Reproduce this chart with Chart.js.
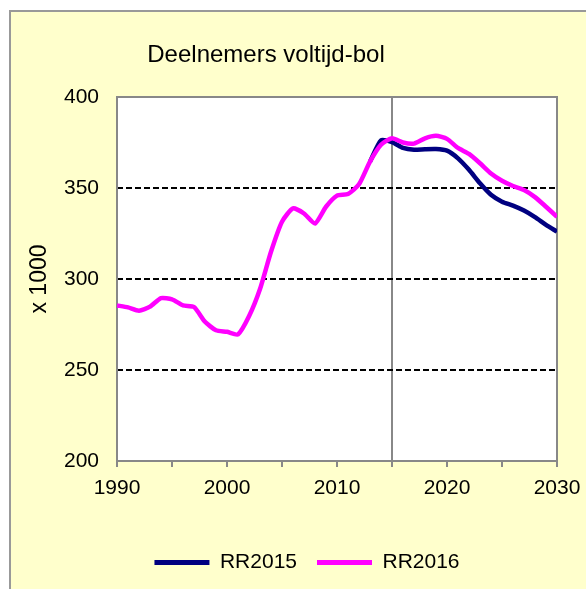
<!DOCTYPE html>
<html lang="nl">
<head>
  <meta charset="UTF-8">
  <title>Deelnemers voltijd-bol</title>
  <script src="https://cdn.jsdelivr.net/npm/chart.js"></script>
  <style>
    body { margin: 0; background: #ffffff; overflow: hidden; width: 586px; height: 589px; }
    #box {
      position: absolute; left: 9px; top: 10px;
      width: 575px; height: 577px;
      background: #ffffcc;
      border-left: 2px solid #999999;
      border-top: 2px solid #999999;
    }
  </style>
  <script>
    const years = [1990, 1991, 1992, 1993, 1994, 1995, 1996, 1997, 1998, 1999,
      2000, 2001, 2002, 2003, 2004, 2005, 2006, 2007, 2008, 2009,
      2010, 2011, 2012, 2013, 2014, 2015, 2016, 2017, 2018, 2019,
      2020, 2021, 2022, 2023, 2024, 2025, 2026, 2027, 2028, 2029, 2030];

    // RR2015 valt tot 2013 samen met RR2016
    const rr2015 = [null, null, null, null, null, null, null, null, null, null,
      null, null, null, null, null, null, null, null, null, null,
      null, null, null, 364.5, 376.2, 375.2, 372, 371, 371.3, 371.4,
      370.5, 366.3, 360, 352.6, 346.3, 342.5, 340.3, 337.6, 334, 329.8, 326];

    const rr2016 = [285.5, 284.4, 282.6, 284.8, 289.5, 288.8, 285.5, 284.6, 276.5, 271.8,
      271, 269.6, 279.5, 294.5, 315, 331.5, 338.8, 336, 330.5, 339.7,
      345.8, 346.7, 352, 364.5, 373.8, 377.3, 375, 374.4, 377.3, 378.7,
      377, 372, 368.7, 363.6, 358, 354, 351.1, 348.9, 345, 339.7, 334.2];

    const seriesNames = ['RR2015', 'RR2016'];
    const yTicks = [200, 250, 300, 350, 400];
    const chartTitle = 'Deelnemers voltijd-bol';
    const yTitle = 'x 1000';

    const FONT = "'Liberation Sans', Arial, sans-serif";

    function toPoints(vals) {
      return years.map((y, i) => ({ x: y, y: vals[i] }));
    }

    // witte plot-achtergrond, grijze rand, titel en legenda iets naar rechts
    const frame = {
      id: 'frame',
      afterLayout(chart) {
        chart.legend.left += 23;
        chart.legend.right += 23;
      },
      beforeDraw(chart) {
        const a = chart.chartArea, ctx = chart.ctx;
        ctx.save();
        ctx.fillStyle = '#ffffff';
        ctx.fillRect(a.left, a.top, a.right - a.left, a.bottom - a.top);
        ctx.restore();
      },
      beforeDatasetsDraw(chart) {
        const a = chart.chartArea, ctx = chart.ctx;
        ctx.save();
        ctx.strokeStyle = '#888888';
        ctx.lineWidth = 2;
        ctx.strokeRect(a.left, a.top, a.right - a.left, a.bottom - a.top);
        ctx.restore();
      },
      afterDraw(chart) {
        const ctx = chart.ctx;
        ctx.save();
        ctx.fillStyle = '#000000';
        ctx.font = '24px ' + FONT;
        ctx.textAlign = 'center';
        ctx.textBaseline = 'middle';
        ctx.fillText(chartTitle, 255, 43);
        ctx.restore();
      }
    };

    window.onload = function () {
      const ctx = document.getElementById('chart').getContext('2d');
      new Chart(ctx, {
        type: 'line',
        data: {
          datasets: [{
            label: seriesNames[0],
            data: toPoints(rr2015),
            borderColor: '#000080',
            backgroundColor: '#000080',
            borderWidth: 4.5,
            pointRadius: 0,
            tension: 0.2,
            order: 1
          }, {
            label: seriesNames[1],
            data: toPoints(rr2016),
            borderColor: '#ff00ff',
            backgroundColor: '#ff00ff',
            borderWidth: 4.5,
            pointRadius: 0,
            tension: 0.2,
            order: 0
          }]
        },
        options: {
          responsive: true,
          maintainAspectRatio: false,
          animation: false,
          layout: { padding: { top: 85, right: 29, left: 0, bottom: 6 } },
          plugins: {
            tooltip: { enabled: false },
            title: { display: false },
            legend: {
              position: 'bottom',
              labels: {
                color: '#000000',
                font: { family: FONT, size: 21 },
                boxWidth: 55,
                boxHeight: 5,
                padding: 20,
                sort: (a, b) => a.datasetIndex - b.datasetIndex,
                generateLabels(chart) {
                  const items = Chart.defaults.plugins.legend.labels.generateLabels(chart);
                  items.forEach(it => { it.fillStyle = it.strokeStyle; it.lineWidth = 0; });
                  return items;
                }
              }
            }
          },
          scales: {
            x: {
              type: 'linear',
              min: 1990,
              max: 2030,
              afterFit(scale) {
                scale.height = 71;
                scale.paddingLeft = 0;
                scale.paddingRight = 0;
              },
              ticks: {
                stepSize: 5,
                autoSkip: false,
                maxRotation: 0,
                padding: 9,
                color: '#000000',
                font: { family: FONT, size: 21 },
                callback: v => (v % 10 === 0 ? String(v) : '')
              },
              grid: {
                color: c => (c.tick && c.tick.value === 2015 ? '#888888' : 'rgba(0,0,0,0)'),
                lineWidth: 2,
                tickColor: '#888888',
                tickLength: 6,
                tickWidth: 2
              },
              border: { display: false }
            },
            y: {
              min: 200,
              max: 400,
              afterFit(scale) { scale.width = 106; },
              afterBuildTicks(scale) { scale.ticks = yTicks.map(v => ({ value: v })); },
              ticks: {
                padding: 18,
                color: '#000000',
                font: { family: FONT, size: 21 }
              },
              grid: {
                drawTicks: false,
                color: c => (c.tick && (c.tick.value === 200 || c.tick.value === 400) ? 'rgba(0,0,0,0)' : '#000000'),
                lineWidth: 2
              },
              border: { display: false, dash: [6, 3] },
              title: {
                display: true,
                text: yTitle,
                color: '#000000',
                font: { family: FONT, size: 23 },
                padding: { top: 15, bottom: 0 }
              }
            }
          }
        },
        plugins: [frame]
      });
    };
  </script>
</head>
<body>
  <div id="box">
    <canvas id="chart"></canvas>
  </div>
</body>
</html>
